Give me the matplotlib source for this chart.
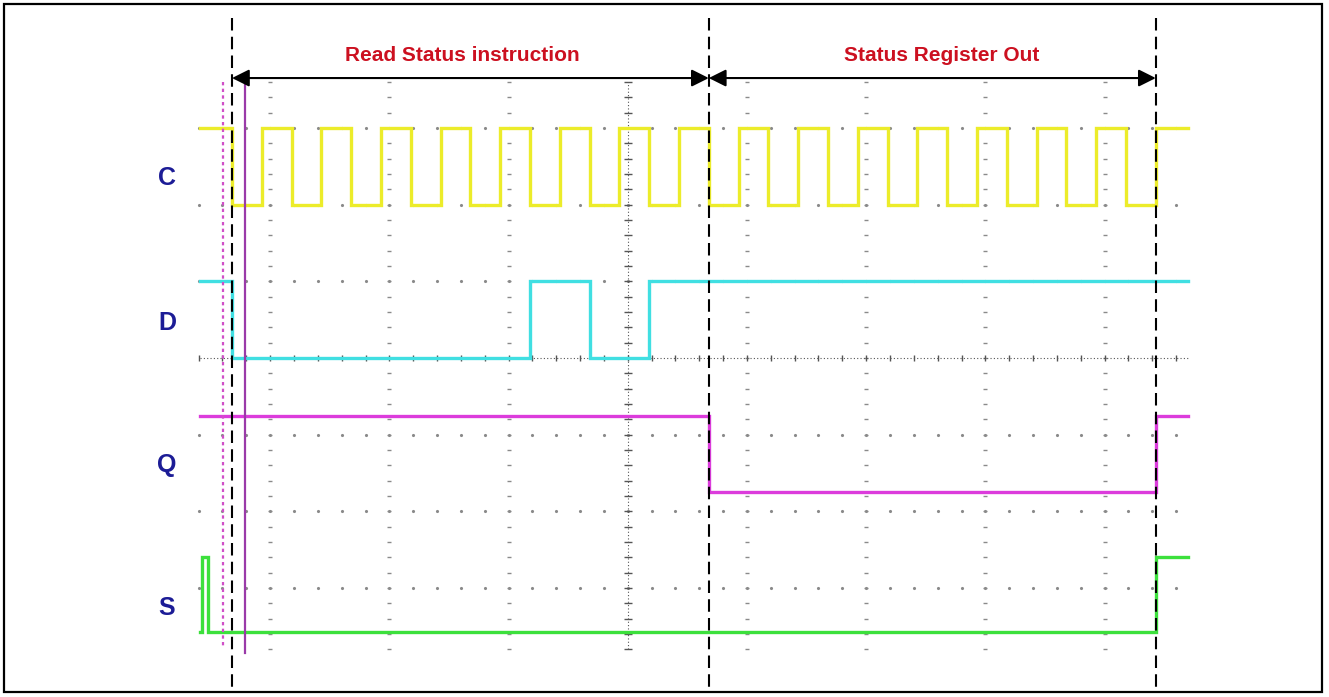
import numpy as np
import matplotlib.pyplot as plt
from matplotlib.patches import Rectangle

# time in clock periods (t=0 at first falling edge of C), levels in scope divisions
t_start = -0.54
t_end = 16.04

c_edges = [0.0, 0.5, 1.0, 1.5, 2.0, 2.5, 3.0, 3.5, 4.0, 4.5, 5.0, 5.5, 6.0, 6.5, 7.0, 7.5,
           8.0, 8.5, 9.0, 9.5, 10.0, 10.5, 11.0, 11.5, 12.0, 12.5, 13.0, 13.5, 14.0, 14.5, 15.0, 15.5]
c_levels = [2.0, 3.0]
c_first_high = True

d_edges = [0.0, 5.0, 6.0, 7.0]
d_levels = [0.0, 1.0]
d_first_high = True

q_edges = [8.0, 15.5]
q_levels = [-1.75, -0.75]
q_first_high = True

s_edges = [-0.50, -0.40, 15.5]
s_levels = [-3.57, -2.6]
s_first_high = False

names = ['C', 'D', 'Q', 'S']
name_y = [2.35, 0.46, -1.39, -3.26]
colors = ['#ecec2a', '#40dfe2', '#dc3cdc', '#3ce03c']

markers_dashed = [0.0, 8.0, 15.5]
cursor_dotted = -0.15
cursor_solid = 0.22
phases = [('Read Status instruction', 0.0, 8.0, 3.86), ('Status Register Out', 8.0, 15.5, 11.9)]


def steps(edges, levels, first_high):
    xs = [t_start]
    ys = [levels[1] if first_high else levels[0]]
    state = first_high
    for e in edges:
        xs += [e, e]
        ys += [levels[1] if state else levels[0], levels[0] if state else levels[1]]
        state = not state
    xs.append(t_end)
    ys.append(ys[-1])
    return xs, ys


# pixel mapping of the scope image
px_t0, px_per, py0, py_div = 232.0, 59.6, 358.0, 76.7
W, H = 1329, 697

fig = plt.figure(figsize=(W / 100, H / 100), dpi=100)
ax = fig.add_axes([0, 0, 1, 1])
ax.set_xlim(-px_t0 / px_per, (W - px_t0) / px_per)
ax.set_ylim((py0 - H) / py_div, py0 / py_div)
ax.axis('off')

# frame
ax.add_patch(Rectangle((4 / W, 5 / H), 1318 / W, 688 / H, transform=ax.transAxes,
                       fill=False, ec='black', lw=1.6))

# scope graticule
gcol = '#8a8a8a'
cols = [0.64 + 2 * k for k in range(8)]
rows = [-3, -2, -1, 1, 2, 3]
ydots = np.arange(-19, 19) * 0.2
xdots = 0.64 + np.arange(-3, 39) * 0.4
for c in cols:
    if c == 6.64:
        continue
    ax.plot([c] * len(ydots), ydots, ls='none', marker='_', ms=3, mew=1, color=gcol, zorder=1)
for r in rows:
    ax.plot(xdots, [r] * len(xdots), ls='none', marker='.', ms=2.5, color=gcol, zorder=1)
ax.plot([t_start, t_end], [0, 0], ls=(0, (1, 2)), lw=0.8, color='#555555', zorder=1)
ax.plot(xdots, [0] * len(xdots), ls='none', marker='|', ms=5, mew=1, color='#555555', zorder=1)
ax.plot([6.64, 6.64], [ydots[0], ydots[-1]], ls=(0, (1, 2)), lw=0.8, color='#555555', zorder=1)
ax.plot([6.64] * len(ydots), ydots, ls='none', marker='_', ms=6, mew=1, color='#555555', zorder=1)

# traces
for edges, levels, first, col in [(c_edges, c_levels, c_first_high, colors[0]),
                                  (d_edges, d_levels, d_first_high, colors[1]),
                                  (q_edges, q_levels, q_first_high, colors[2]),
                                  (s_edges, s_levels, s_first_high, colors[3])]:
    xs, ys = steps(edges, levels, first)
    ax.plot(xs, ys, color=col, lw=2.4, solid_joinstyle='miter', zorder=3)

# channel names
for n, y in zip(names, name_y):
    ax.text(-1.09, y, n, color='#1c1c96', fontsize=18, fontweight='bold',
            family='Liberation Sans', ha='center', va='center')

# cursors
ax.plot([cursor_dotted] * 2, [3.6, -3.78], color='#d050c8', lw=1.6, ls=(0, (1.5, 1.5)), zorder=4)
ax.plot([cursor_solid] * 2, [3.65, -3.84], color='#9a3aa8', lw=1.6, zorder=4)
for m in markers_dashed:
    ax.plot([m, m], [4.43, -4.33], color='black', lw=1.5, ls=(0, (6, 3)), zorder=5)

# phase arrows and titles
for label, a, b, xc in phases:
    ax.annotate('', xy=(a, 3.65), xytext=(b, 3.65),
                arrowprops=dict(arrowstyle='<|-|>', color='black', lw=1.5,
                                mutation_scale=26, shrinkA=0, shrinkB=0), zorder=6)
    ax.text(xc, 3.95, label, color='#cc1020', fontsize=15, fontweight='bold',
            family='Liberation Sans', ha='center', va='center')

fig.savefig('out.png', dpi=100)
